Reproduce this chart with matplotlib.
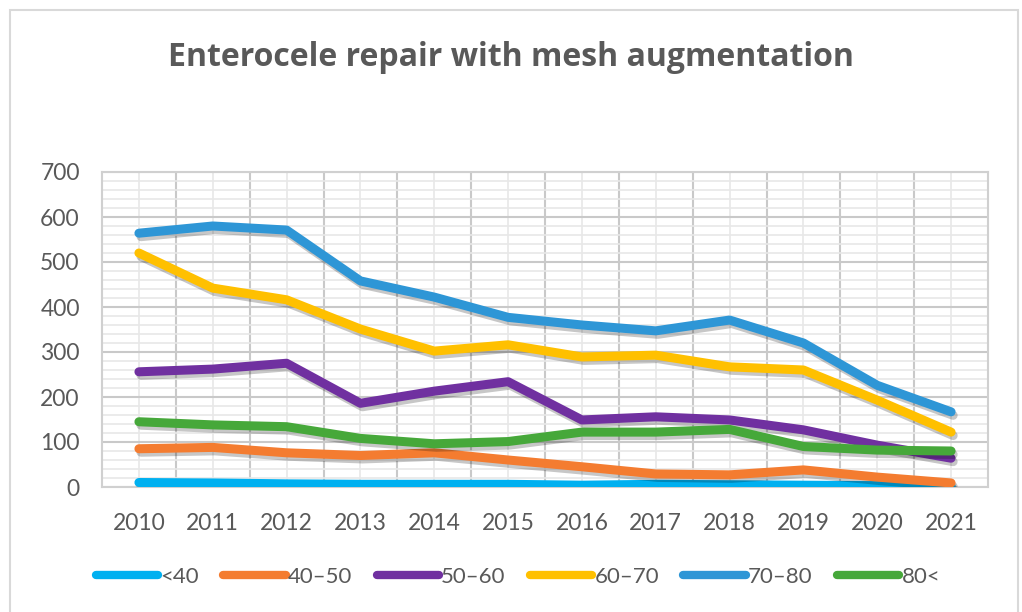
import numpy as np
import matplotlib
matplotlib.use('Agg')
import matplotlib.pyplot as plt
import matplotlib.patheffects as pe
from matplotlib.patches import Rectangle
from matplotlib.lines import Line2D
from matplotlib.ticker import MultipleLocator

plt.rcParams['font.family'] = ['Lato', 'DejaVu Sans']

# data
years = ['2010', '2011', '2012', '2013', '2014', '2015',
         '2016', '2017', '2018', '2019', '2020', '2021']
under40 = [10, 9, 7, 6, 6, 6, 4, 6, 5, 4, 3, 2]
age40_50 = [85, 88, 76, 70, 76, 60, 45, 29, 27, 38, 22, 9]
age50_60 = [256, 262, 275, 186, 213, 234, 149, 156, 149, 127, 93, 64]
age60_70 = [520, 442, 416, 351, 302, 316, 289, 293, 267, 260, 193, 122]
age70_80 = [564, 580, 571, 458, 422, 377, 360, 347, 371, 320, 226, 167]
over80 = [145, 138, 134, 108, 96, 101, 122, 122, 128, 90, 82, 80]

labels = ['<40', '40\u201350', '50\u201360', '60\u201370', '70\u201380', '80<']
series = [under40, age40_50, age50_60, age60_70, age70_80, over80]
colors = ['#00B0F0', '#F47C30', '#7030A0', '#FFC000', '#2E96D6', '#46A83A']

grey = '#595959'

fig = plt.figure(figsize=(10.22, 6.12), dpi=100)
fig.patches.append(Rectangle((10 / 1022, -0.05), 1008 / 1022, 1.05 - 10 / 612,
                             transform=fig.transFigure, fill=False,
                             edgecolor='#d9d9d9', linewidth=1.5, zorder=0))
ax = fig.add_axes([102 / 1022, 1 - 487 / 612, 886 / 1022, 315 / 612])

x = np.arange(len(years))
shadow = [pe.SimpleLineShadow(offset=(1.5, -2.5), shadow_color='#000000', alpha=0.22),
          pe.Normal()]
for vals, lab, c in zip(series, labels, colors):
    ax.plot(x, vals, color=c, lw=6.5, solid_capstyle='round', solid_joinstyle='round',
            path_effects=shadow, zorder=3)

ax.set_xlim(-0.5, len(years) - 0.5)
ax.set_ylim(0, 700)
ax.set_xticks(x)
ax.set_xticklabels(years)
ax.set_xticks(x[:-1] + 0.5, minor=True)
ax.yaxis.set_major_locator(MultipleLocator(100))
ax.yaxis.set_minor_locator(MultipleLocator(20))

ax.grid(which='major', axis='y', color='#c9c9c9', lw=1.5, zorder=0)
ax.grid(which='minor', axis='y', color='#e8e8e8', lw=1.2, zorder=0)
ax.grid(which='minor', axis='x', color='#c9c9c9', lw=1.5, zorder=0)
ax.grid(which='major', axis='x', color='#e8e8e8', lw=1.2, zorder=0)
ax.set_axisbelow(True)

for s in ax.spines.values():
    s.set_color('#d0d0d0')
    s.set_linewidth(1.5)
ax.tick_params(which='both', length=0)
ax.tick_params(axis='x', labelsize=16.5, labelcolor=grey, pad=19)
ax.tick_params(axis='y', labelsize=16.5, labelcolor=grey, pad=16)

fig.text(0.5, 1 - 58 / 612, 'Enterocele repair with mesh augmentation',
         ha='center', va='center', fontsize=23, fontweight='bold', color=grey,
         family=['Open Sans', 'DejaVu Sans'])

handles = [Line2D([], [], color=c, lw=6, solid_capstyle='round') for c in colors]
fig.legend(handles, labels, loc='center', bbox_to_anchor=(518 / 1022, 1 - 577 / 612),
           ncol=6, frameon=False, fontsize=16, labelcolor=grey, handlelength=2.8,
           handletextpad=0.1, columnspacing=1.1)

fig.savefig('out.png', dpi=100, facecolor='white')
